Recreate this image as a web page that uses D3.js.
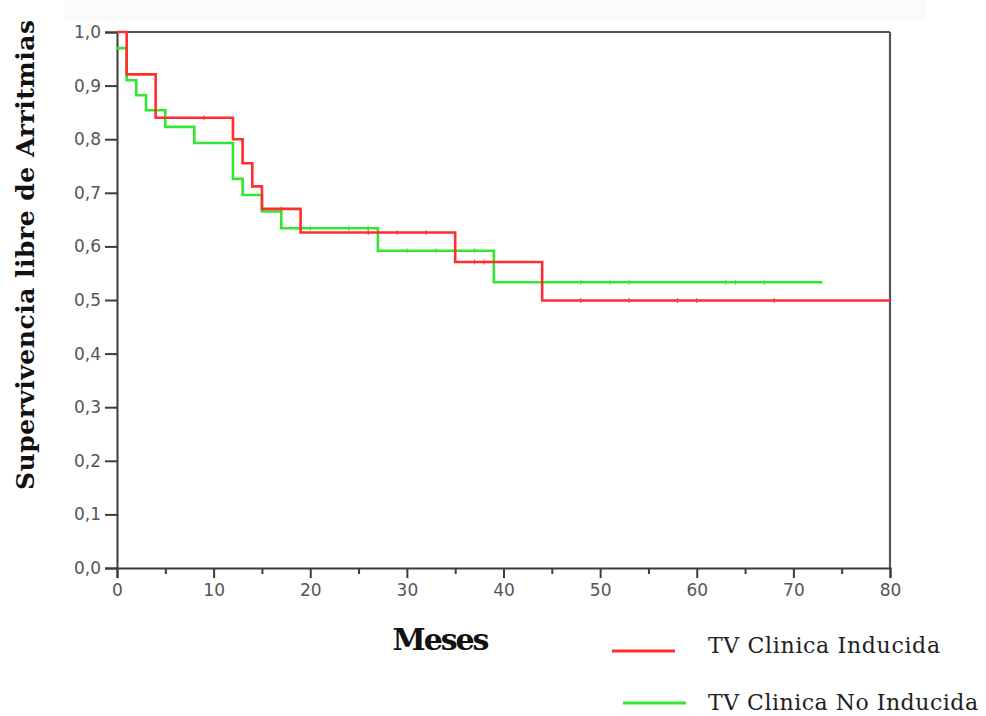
<!DOCTYPE html>
<html>
<head>
<meta charset="utf-8">
<script src="https://cdn.jsdelivr.net/npm/d3@7"></script>
<style>
  html, body { margin: 0; padding: 0; background: #fff; }
  svg { display: block; }
</style>
</head>
<body>
<svg id="chart" width="986" height="716"></svg>
<script>
// Kaplan–Meier curves: time (months) and survival at each step
const inducidaTimes = [0, 1, 4, 12, 13, 14, 15, 19, 35, 44];
const inducidaSurv  = [1.0, 0.921, 0.840, 0.800, 0.755, 0.712, 0.670, 0.626, 0.571, 0.499];
const inducidaEnd   = 80;
const inducidaCensored = [9, 17, 26, 29, 32, 37, 38, 48, 53, 58, 60, 68];

const noInducidaTimes = [0, 1, 2, 3, 5, 8, 12, 13, 15, 17, 27, 39];
const noInducidaSurv  = [0.970, 0.910, 0.882, 0.854, 0.823, 0.793, 0.726, 0.696, 0.665, 0.634, 0.592, 0.533];
const noInducidaEnd   = 73;
const noInducidaCensored = [20, 24, 26, 30, 33, 37, 48, 51, 53, 63, 64, 67];

const xTicks = [0, 10, 20, 30, 40, 50, 60, 70, 80];
const xMinorTicks = [5, 15, 25, 35, 45, 55, 65, 75];
const yTicks = [0, 0.1, 0.2, 0.3, 0.4, 0.5, 0.6, 0.7, 0.8, 0.9, 1.0];

const seriesNames = ["TV Clinica Inducida", "TV Clinica No Inducida"];
const seriesColors = ["#ff2e2e", "#2fe82f"];

const svg = d3.select("#chart");
const plotLeft = 117, plotTop = 32, plotRight = 890, plotBottom = 568;

const x = d3.scaleLinear().domain([0, 80]).range([plotLeft, plotRight]);
const y = d3.scaleLinear().domain([0, 1]).range([plotBottom, plotTop]);

const fmt = d3.formatLocale({decimal: ",", thousands: ".", grouping: [3], currency: ["", ""]}).format(".1f");

// faint backdrop band at the top
svg.append("rect").attr("x", 64).attr("y", 0).attr("width", 862).attr("height", 22)
  .attr("fill", "#fbfbfb");

const axisColor = "#3c3c3c";
const tickTextColor = "#555";

// frame: top and right edges
svg.append("line").attr("x1", plotLeft).attr("x2", plotRight).attr("y1", plotTop).attr("y2", plotTop)
  .attr("stroke", "#555").attr("stroke-width", 2.2);
svg.append("line").attr("x1", plotRight).attr("x2", plotRight).attr("y1", plotTop).attr("y2", plotBottom)
  .attr("stroke", "#555").attr("stroke-width", 2.2);

// y axis
const yAxis = d3.axisLeft(y).tickValues(yTicks).tickFormat(fmt).tickSize(12).tickPadding(4);
const gy = svg.append("g").attr("transform", `translate(${plotLeft},0)`).call(yAxis);
gy.select(".domain").attr("stroke", axisColor).attr("stroke-width", 2);
gy.selectAll(".tick line").attr("stroke", axisColor).attr("stroke-width", 2);
gy.selectAll(".tick text").attr("fill", tickTextColor)
  .style("font-family", "'DejaVu Sans', sans-serif").style("font-size", "17px");

// x axis: major ticks with labels, minor ticks between
const xAxis = d3.axisBottom(x).tickValues(xTicks).tickFormat(d3.format("d")).tickSize(10).tickPadding(6);
const gx = svg.append("g").attr("transform", `translate(0,${plotBottom})`).call(xAxis);
gx.select(".domain").attr("stroke", axisColor).attr("stroke-width", 2);
gx.selectAll(".tick line").attr("stroke", axisColor).attr("stroke-width", 2);
gx.selectAll(".tick text").attr("fill", tickTextColor)
  .style("font-family", "'DejaVu Sans', sans-serif").style("font-size", "17px");

const xMinor = d3.axisBottom(x).tickValues(xMinorTicks).tickFormat("").tickSize(6);
const gxm = svg.append("g").attr("transform", `translate(0,${plotBottom})`).call(xMinor);
gxm.select(".domain").remove();
gxm.selectAll(".tick line").attr("stroke", axisColor).attr("stroke-width", 2);

// step curves
const line = d3.line().x(d => x(d[0])).y(d => y(d[1])).curve(d3.curveStepAfter);

function stepPoints(times, surv, end) {
  const pts = times.map((t, i) => [t, surv[i]]);
  pts.push([end, surv[surv.length - 1]]);
  return pts;
}
function survAt(times, surv, t) {
  let v = surv[0];
  times.forEach((tt, i) => { if (tt <= t) v = surv[i]; });
  return v;
}

const series = [
  {times: inducidaTimes, surv: inducidaSurv, end: inducidaEnd, cens: inducidaCensored, color: seriesColors[0]},
  {times: noInducidaTimes, surv: noInducidaSurv, end: noInducidaEnd, cens: noInducidaCensored, color: seriesColors[1]}
];

// draw green below red
[series[1], series[0]].forEach(s => {
  svg.append("path")
    .attr("d", line(stepPoints(s.times, s.surv, s.end)))
    .attr("fill", "none").attr("stroke", s.color).attr("stroke-width", 2.6)
    .attr("stroke-linejoin", "miter");
  svg.append("g").selectAll("line").data(s.cens).join("line")
    .attr("x1", d => x(d)).attr("x2", d => x(d))
    .attr("y1", d => y(survAt(s.times, s.surv, d)) - 2.5)
    .attr("y2", d => y(survAt(s.times, s.surv, d)) + 2.5)
    .attr("stroke", s.color).attr("stroke-width", 1.2).attr("opacity", 0.8);
});

// axis titles
svg.append("text")
  .attr("transform", "translate(34,255) rotate(-90)")
  .attr("text-anchor", "middle")
  .attr("textLength", 470)
  .style("font-family", "'DejaVu Serif', 'Liberation Serif', serif")
  .style("font-weight", "bold").style("font-size", "25px").attr("fill", "#111")
  .text("Supervivencia libre de Arritmias");

svg.append("text")
  .attr("x", 441).attr("y", 650)
  .attr("text-anchor", "middle")
  .attr("textLength", 97)
  .style("font-family", "'DejaVu Serif', 'Liberation Serif', serif")
  .style("font-weight", "bold").style("font-size", "30px").attr("fill", "#111")
  .text("Meses");

// legend
const legend = [
  {x1: 612, x2: 675, y: 651, tx: 708, ty: 653, len: 232},
  {x1: 623, x2: 686, y: 703, tx: 708, ty: 710, len: 270}
];
legend.forEach((l, i) => {
  svg.append("line").attr("x1", l.x1).attr("x2", l.x2).attr("y1", l.y).attr("y2", l.y)
    .attr("stroke", seriesColors[i]).attr("stroke-width", 3);
  svg.append("text").attr("x", l.tx).attr("y", l.ty)
    .attr("textLength", l.len)
    .style("font-family", "'DejaVu Serif', 'Liberation Serif', serif")
    .style("font-size", "22px").attr("fill", "#222")
    .text(seriesNames[i]);
});
</script>
</body>
</html>
